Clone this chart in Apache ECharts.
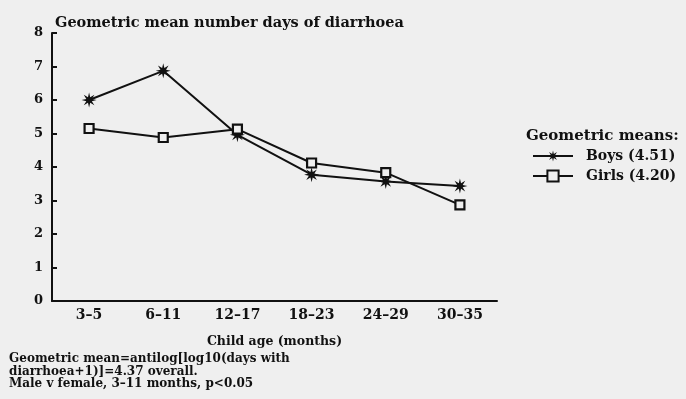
<!DOCTYPE html>
<html><head><meta charset="utf-8">
<script src="https://cdn.jsdelivr.net/npm/echarts@6/dist/echarts.min.js"></script>
<style>html,body{margin:0;padding:0;background:#efefef}#c{width:686px;height:399px}</style>
</head><body><div id="c"></div>
<script>
const categories = ["3\u20135", "6\u201311", "12\u201317", "18\u201323", "24\u201329", "30\u201335"];
const boys = [6.0, 6.87, 4.96, 3.77, 3.57, 3.43];
const girls = [5.15, 4.88, 5.13, 4.12, 3.83, 2.87];
const yTicks = [0, 1, 2, 3, 4, 5, 6, 7, 8];
const seriesNames = ["Boys (4.51)", "Girls (4.20)"];
const titleText = "Geometric mean number days of diarrhoea";
const xName = "Child age (months)";
const legendTitle = "Geometric means:";
const footnote = ["Geometric mean=antilog[log10(days with", "diarrhoea+1)]=4.37 overall.", "Male v female, 3\u201311 months, p<0.05"];

const FONT = "DejaVu Serif";
const INK = "#111";
const BG = "#efefef";
const star = "path://M10 0 L11.5 6.3 L17.07 2.93 L13.7 8.5 L20 10 L13.7 11.5 L17.07 17.07 L11.5 13.7 L10 20 L8.5 13.7 L2.93 17.07 L6.3 11.5 L0 10 L6.3 8.5 L2.93 2.93 L8.5 6.3 Z";

const chart = echarts.init(document.getElementById('c'), null, {renderer: 'canvas'});
chart.setOption({
  backgroundColor: BG,
  animation: false,
  textStyle: {fontFamily: FONT, fontWeight: 'bold', color: INK},
  grid: {left: 52, right: 189, top: 33, bottom: 98},
  title: {text: titleText, left: 50, top: 11,
    textStyle: {fontFamily: FONT, fontWeight: 'bold', fontSize: 14.5, color: INK}},
  legend: {
    orient: 'vertical', left: 527, top: 144, itemGap: 6,
    itemWidth: 40, itemHeight: 14,
    textStyle: {fontFamily: FONT, fontWeight: 'bold', fontSize: 14, color: INK, padding: [0, 0, 0, 8]},
    data: seriesNames
  },
  xAxis: {
    type: 'category', data: categories, boundaryGap: true,
    name: xName, nameLocation: 'middle', nameGap: 34,
    nameTextStyle: {fontFamily: FONT, fontWeight: 'bold', fontSize: 12.5, color: INK},
    axisLine: {lineStyle: {color: INK, width: 2}},
    axisTick: {inside: true, alignWithLabel: true, length: 6, lineStyle: {color: INK, width: 2}},
    axisLabel: {fontFamily: FONT, fontWeight: 'bold', fontSize: 14, color: INK, margin: 7},
    splitLine: {show: false}
  },
  yAxis: {
    type: 'value', min: 0, max: 8, interval: 1,
    axisLine: {show: true, lineStyle: {color: INK, width: 2}},
    axisTick: {show: true, inside: true, length: 5, lineStyle: {color: INK, width: 2}},
    axisLabel: {fontFamily: FONT, fontWeight: 'bold', fontSize: 13, color: INK, margin: 9,
      formatter: v => yTicks.includes(v) ? String(v) : ''},
    splitLine: {show: false}
  },
  series: [
    {name: seriesNames[0], type: 'line', data: boys, symbol: star, symbolSize: 15,
      lineStyle: {color: INK, width: 2}, itemStyle: {color: INK}},
    {name: seriesNames[1], type: 'line', data: girls, symbol: 'rect', symbolSize: 9,
      lineStyle: {color: INK, width: 2}, itemStyle: {color: BG, borderColor: INK, borderWidth: 2.2}}
  ],
  graphic: [
    {type: 'text', left: 526, top: 129, style: {text: legendTitle, font: 'bold 15px "DejaVu Serif"', fill: INK}},
    {type: 'text', left: 9, top: 353, style: {text: footnote.join('\n'), font: 'bold 12px "DejaVu Serif"', fill: INK, lineHeight: 12.5}}
  ]
});
</script></body></html>
